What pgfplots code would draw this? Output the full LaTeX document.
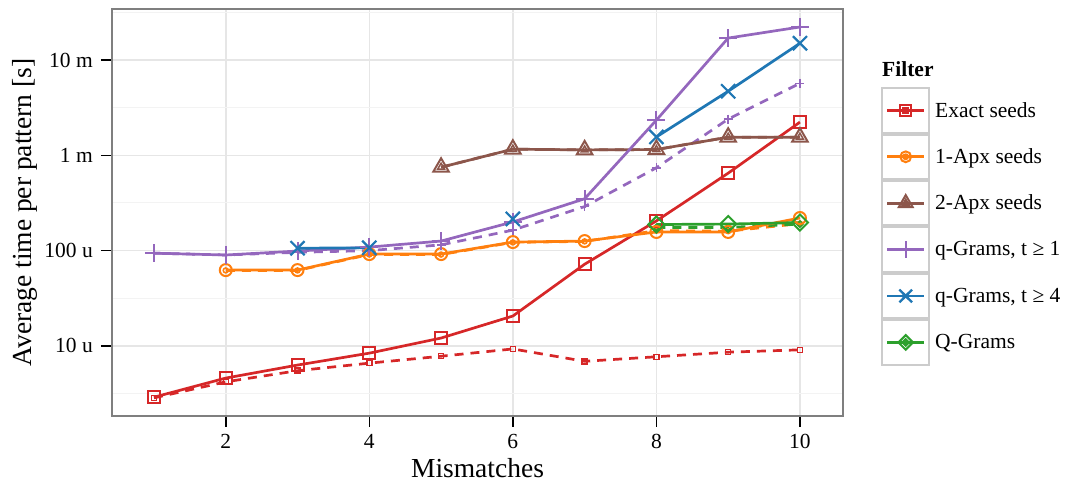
\documentclass[border=0pt]{standalone}
\usepackage{pgfplots}
\pgfplotsset{compat=1.18}
\usepackage{fontspec}
\setmainfont{Liberation Serif}
\definecolor{cred}{HTML}{D62728}
\definecolor{corange}{HTML}{FF7F0E}
\definecolor{cbrown}{HTML}{8C564B}
\definecolor{cpurple}{HTML}{9467BD}
\definecolor{cblue}{HTML}{1F77B4}
\definecolor{cgreen}{HTML}{2CA02C}
\definecolor{framegray}{HTML}{7F7F7F}
\definecolor{gridmaj}{HTML}{E6E6E6}
\definecolor{gridmin}{HTML}{F3F3F3}
\definecolor{keygray}{HTML}{CCCCCC}
\begin{document}
\begin{tikzpicture}
\useasboundingbox (-112pt,-68pt) rectangle (955pt,416pt);
\begin{axis}[
  at={(0pt,0pt)}, anchor=south west,
  scale only axis, width=731pt, height=407pt,
  ymode=log, xmin=0.415, xmax=10.6, ymin=1.84e-6, ymax=3.43e-2,
  xtick={2,4,6,8,10},
  ytick={1e-5,1e-4,1e-3,1e-2}, yticklabels={10 u,100 u,1 m,10 m},
  minor ytick={3.1623e-6,3.1623e-5,3.1623e-4,3.1623e-3,3.1623e-2},
  xmajorgrids, ymajorgrids, yminorgrids,
  major grid style={gridmaj, line width=1.5pt},
  minor grid style={gridmin, line width=1pt},
  axis line style={framegray, line width=2pt},
  tick align=outside, tick pos=left,
  major tick length=11pt, minor tick length=0pt,
  major tick style={black, line width=1.6pt},
  /pgf/number format/assume math mode=true,
  tick label style={font=\fontsize{21.5}{24}\selectfont},
  xticklabel style={inner sep=0pt, yshift=-7pt},
  yticklabel style={inner sep=0pt, xshift=-8pt},
  xlabel={Mismatches}, ylabel={Average time per pattern [s]},
  label style={font=\fontsize{27.5}{30}\selectfont},
  xlabel style={at={(axis description cs:0.5,-0.150)}, anchor=base, inner sep=0pt},
  ylabel style={at={(axis description cs:-0.119,0.5)}, anchor=center, inner sep=0pt},
  unbounded coords=jump,
  legend style={at={(axis description cs:1.052,0.8084)}, anchor=north west, draw=none, fill=none, inner sep=0pt, row sep=0pt, column sep=3pt, font=\fontsize{21.5}{24}\selectfont, nodes={inner sep=2pt}},
  legend cell align=left,
  legend image code/.code={
    \draw[keygray, line width=2pt, fill=white, solid] (0pt,-22.2pt) rectangle (47pt,22.2pt);
    \draw[mark repeat=2, mark phase=2, every mark/.append style={scale=0.9}] plot coordinates {(5pt,0pt) (23.5pt,0pt) (42pt,0pt)};
    \draw[only marks, every mark/.append style={scale=0.4}] plot coordinates {(23.5pt,0pt)};
  },
  solidline/.style={line width=2.7pt, solid},
  dashline/.style={line width=2.7pt, dash pattern=on 9pt off 7pt},
]
% dashed series
\addplot[cred, dashline, mark=square, mark size=2.5pt, mark options={solid, line width=1.5pt}, forget plot] coordinates {(1,2.85e-6)(2,4.2e-6)(3,5.5e-6)(4,6.6e-6)(5,7.8e-6)(6,9.3e-6)(7,6.9e-6)(8,7.7e-6)(9,8.6e-6)(10,9.1e-6)};
\addplot[corange, dashline, mark=o, mark size=2.5pt, mark options={solid, line width=1.5pt}, forget plot] coordinates {(2,6.2e-5)(3,6.2e-5)(4,9.1e-5)(5,9.1e-5)(6,1.22e-4)(7,1.25e-4)(8,1.62e-4)(9,1.6e-4)(10,1.92e-4)};
\addplot[cbrown, dashline, mark=triangle, mark size=4pt, mark options={solid, line width=1.5pt}, forget plot] coordinates {(5,7.5e-4)(6,1.16e-3)(7,1.14e-3)(8,1.15e-3)(9,1.55e-3)(10,1.55e-3)};
\addplot[cpurple, dashline, mark=+, mark size=4.5pt, mark options={solid, line width=1.5pt}, forget plot] coordinates {(1,9.4e-5)(2,9.0e-5)(3,9.6e-5)(4,1.0e-4)(5,1.15e-4)(6,1.64e-4)(7,2.9e-4)(8,7.4e-4)(9,2.4e-3)(10,5.7e-3)};
\addplot[cgreen, dashline, mark=square, mark size=2.2pt, mark options={solid, rotate=45, line width=1.5pt}, forget plot] coordinates {(8,1.75e-4)(9,1.75e-4)(10,1.9e-4)};
% solid series
\addplot[cred, solidline, mark=square, mark size=6pt, mark options={solid, line width=2pt}] coordinates {(1,2.9e-6)(2,4.6e-6)(3,6.3e-6)(4,8.4e-6)(5,1.21e-5)(6,2.06e-5)(7,7.2e-5)(8,2.05e-4)(9,6.5e-4)(10,2.23e-3)};
\addlegendentry{Exact seeds}
\addplot[corange, solidline, mark=o, mark size=6pt, mark options={solid, line width=2pt}] coordinates {(2,6.25e-5)(3,6.25e-5)(4,9.2e-5)(5,9.2e-5)(6,1.23e-4)(7,1.26e-4)(8,1.57e-4)(9,1.57e-4)(10,2.2e-4)};
\addlegendentry{1-Apx seeds}
\addplot[cbrown, solidline, mark=triangle, mark size=9pt, mark options={solid, line width=2pt}] coordinates {(5,7.5e-4)(6,1.16e-3)(7,1.14e-3)(8,1.15e-3)(9,1.55e-3)(10,1.55e-3)};
\addlegendentry{2-Apx seeds}
\addplot[cpurple, solidline, mark=+, mark size=9pt, mark options={solid, line width=2pt}] coordinates {(1,9.4e-5)(2,9.0e-5)(3,9.9e-5)(4,1.09e-4)(5,1.26e-4)(6,2.0e-4)(7,3.5e-4)(8,2.34e-3)(9,1.70e-2)(10,2.22e-2)};
\addlegendentry{q-Grams, t ≥ 1}
\addplot[cblue, solidline, mark=x, mark size=10pt, mark options={solid, line width=2.2pt}] coordinates {(3,1.06e-4)(4,1.07e-4)(5,nan)(6,2.15e-4)(7,nan)(8,1.56e-3)(9,4.7e-3)(10,1.5e-2)};
\addlegendentry{q-Grams, t ≥ 4}
\addplot[cgreen, solidline, mark=square, mark size=5.7pt, mark options={solid, rotate=45, line width=2pt}] coordinates {(8,1.88e-4)(9,1.9e-4)(10,1.97e-4)};
\addlegendentry{Q-Grams}
\end{axis}
\node[anchor=base west, inner sep=0pt, font=\fontsize{21.5}{24}\selectfont\bfseries] at (770pt,339pt) {Filter};
\end{tikzpicture}
\end{document}
